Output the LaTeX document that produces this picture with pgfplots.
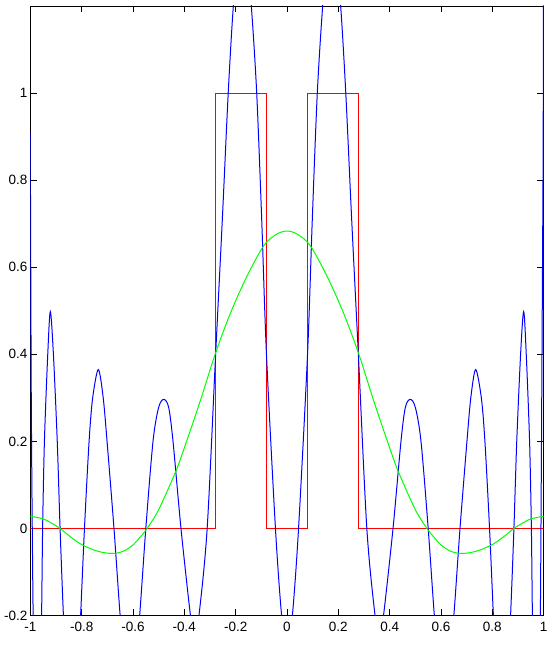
\documentclass[border=0pt]{standalone}
\usepackage{fontspec}
\setmainfont{Liberation Sans}
\usepackage{pgfplots}
\pgfplotsset{compat=1.18}

\begin{document}
\begin{tikzpicture}
% page = 549 x 648 px, axis box from (30.3,6) to (543.7,615.5)
\useasboundingbox (-30.3bp,-32.5bp) rectangle (518.7bp,615.5bp);
\begin{axis}[
  at={(0bp,0bp)}, anchor=south west,
  scale only axis,
  width=513.4bp, height=609.5bp,
  xmin=-1, xmax=1, ymin=-0.2, ymax=1.2,
  xtick={-1,-0.8,-0.6,-0.4,-0.2,0,0.2,0.4,0.6,0.8,1},
  xticklabels={-1,-0.8,-0.6,-0.4,-0.2,0,0.2,0.4,0.6,0.8,1},
  ytick={-0.2,0,0.2,0.4,0.6,0.8,1},
  yticklabels={-0.2,0,0.2,0.4,0.6,0.8,1},
  tick align=inside,
  major tick length=6.5bp,
  tick style={black, line width=0.8bp},
  axis line style={black, line width=0.9bp},
  ticklabel style={font=\fontsize{13.5bp}{16bp}\selectfont},
  xticklabel style={yshift=-3.5bp},
  yticklabel style={xshift=0.5bp},
  clip=true,
]
% red: step function
\addplot[red, line width=1bp] coordinates {
  (-1,0) (-0.28,0) (-0.28,1) (-0.08,1) (-0.08,0)
  (0.08,0) (0.08,1) (0.28,1) (0.28,0) (1,0)
};
% blue: oscillating curve
\addplot[blue, line width=1bp, smooth] coordinates {
  (-1,0.909) (-0.996,0.28) (-0.989,-0.2) (-0.982,-0.45) (-0.972,-0.55)
  (-0.962,-0.42) (-0.956,-0.2) (-0.952,0) (-0.945,0.2) (-0.932,0.4)
  (-0.922,0.498) (-0.910,0.4) (-0.895,0.2) (-0.884,0) (-0.871,-0.2)
  (-0.858,-0.36) (-0.838,-0.45) (-0.817,-0.36) (-0.804,-0.2) (-0.789,0)
  (-0.771,0.2) (-0.757,0.3) (-0.735,0.365) (-0.716,0.3) (-0.701,0.2)
  (-0.674,0) (-0.650,-0.2) (-0.632,-0.31) (-0.612,-0.35) (-0.592,-0.31)
  (-0.574,-0.2) (-0.550,0) (-0.522,0.2) (-0.500,0.278) (-0.480,0.2965)
  (-0.461,0.278) (-0.444,0.2) (-0.413,0) (-0.376,-0.2) (-0.360,-0.25)
  (-0.343,-0.2) (-0.311,0) (-0.278,0.4) (-0.252,0.709) (-0.229,1.0)
  (-0.209,1.2) (-0.190,1.31) (-0.174,1.34) (-0.157,1.31) (-0.139,1.2)
  (-0.118,1.0) (-0.0985,0.709) (-0.080,0.4) (-0.045,0) (-0.021,-0.2)
  (0,-0.29)
  (0.021,-0.2) (0.045,0) (0.080,0.4) (0.0985,0.709) (0.118,1.0)
  (0.139,1.2) (0.157,1.31) (0.174,1.34) (0.190,1.31) (0.209,1.2)
  (0.229,1.0) (0.252,0.709) (0.278,0.4) (0.311,0) (0.343,-0.2)
  (0.360,-0.25) (0.376,-0.2) (0.413,0) (0.444,0.2) (0.461,0.278)
  (0.480,0.2965) (0.500,0.278) (0.522,0.2) (0.550,0) (0.574,-0.2)
  (0.592,-0.31) (0.612,-0.35) (0.632,-0.31) (0.650,-0.2) (0.674,0)
  (0.701,0.2) (0.716,0.3) (0.735,0.365) (0.757,0.3) (0.771,0.2)
  (0.789,0) (0.804,-0.2) (0.817,-0.36) (0.838,-0.45) (0.858,-0.36)
  (0.871,-0.2) (0.884,0) (0.895,0.2) (0.910,0.4) (0.922,0.498)
  (0.932,0.4) (0.945,0.2) (0.952,0) (0.956,-0.2) (0.962,-0.42)
  (0.972,-0.55) (0.980,-0.45) (0.987,-0.2) (0.995,0.57) (0.998,0.909)
  (1,1.5)
};
% green: smooth approximation
\addplot[green, line width=1bp, smooth] coordinates {
  (-1,0.028) (-0.95,0.022) (-0.92,0.013) (-0.884,0) (-0.84,-0.021)
  (-0.8,-0.037) (-0.75,-0.050) (-0.71,-0.056) (-0.677,-0.0575) (-0.65,-0.055)
  (-0.625,-0.0485) (-0.60,-0.038) (-0.575,-0.022) (-0.545,0) (-0.50,0.043)
  (-0.434,0.13) (-0.40,0.185) (-0.34,0.289) (-0.28,0.40) (-0.22,0.495)
  (-0.157,0.578) (-0.09,0.650) (-0.04,0.676) (0,0.683)
  (0.04,0.676) (0.09,0.650) (0.157,0.578) (0.22,0.495) (0.28,0.40)
  (0.34,0.289) (0.40,0.185) (0.434,0.13) (0.50,0.043) (0.545,0)
  (0.575,-0.022) (0.60,-0.038) (0.625,-0.0485) (0.65,-0.055) (0.677,-0.0575)
  (0.71,-0.056) (0.75,-0.050) (0.8,-0.037) (0.84,-0.021) (0.884,0)
  (0.92,0.013) (0.95,0.022) (1,0.028)
};
\end{axis}
\end{tikzpicture}
\end{document}
